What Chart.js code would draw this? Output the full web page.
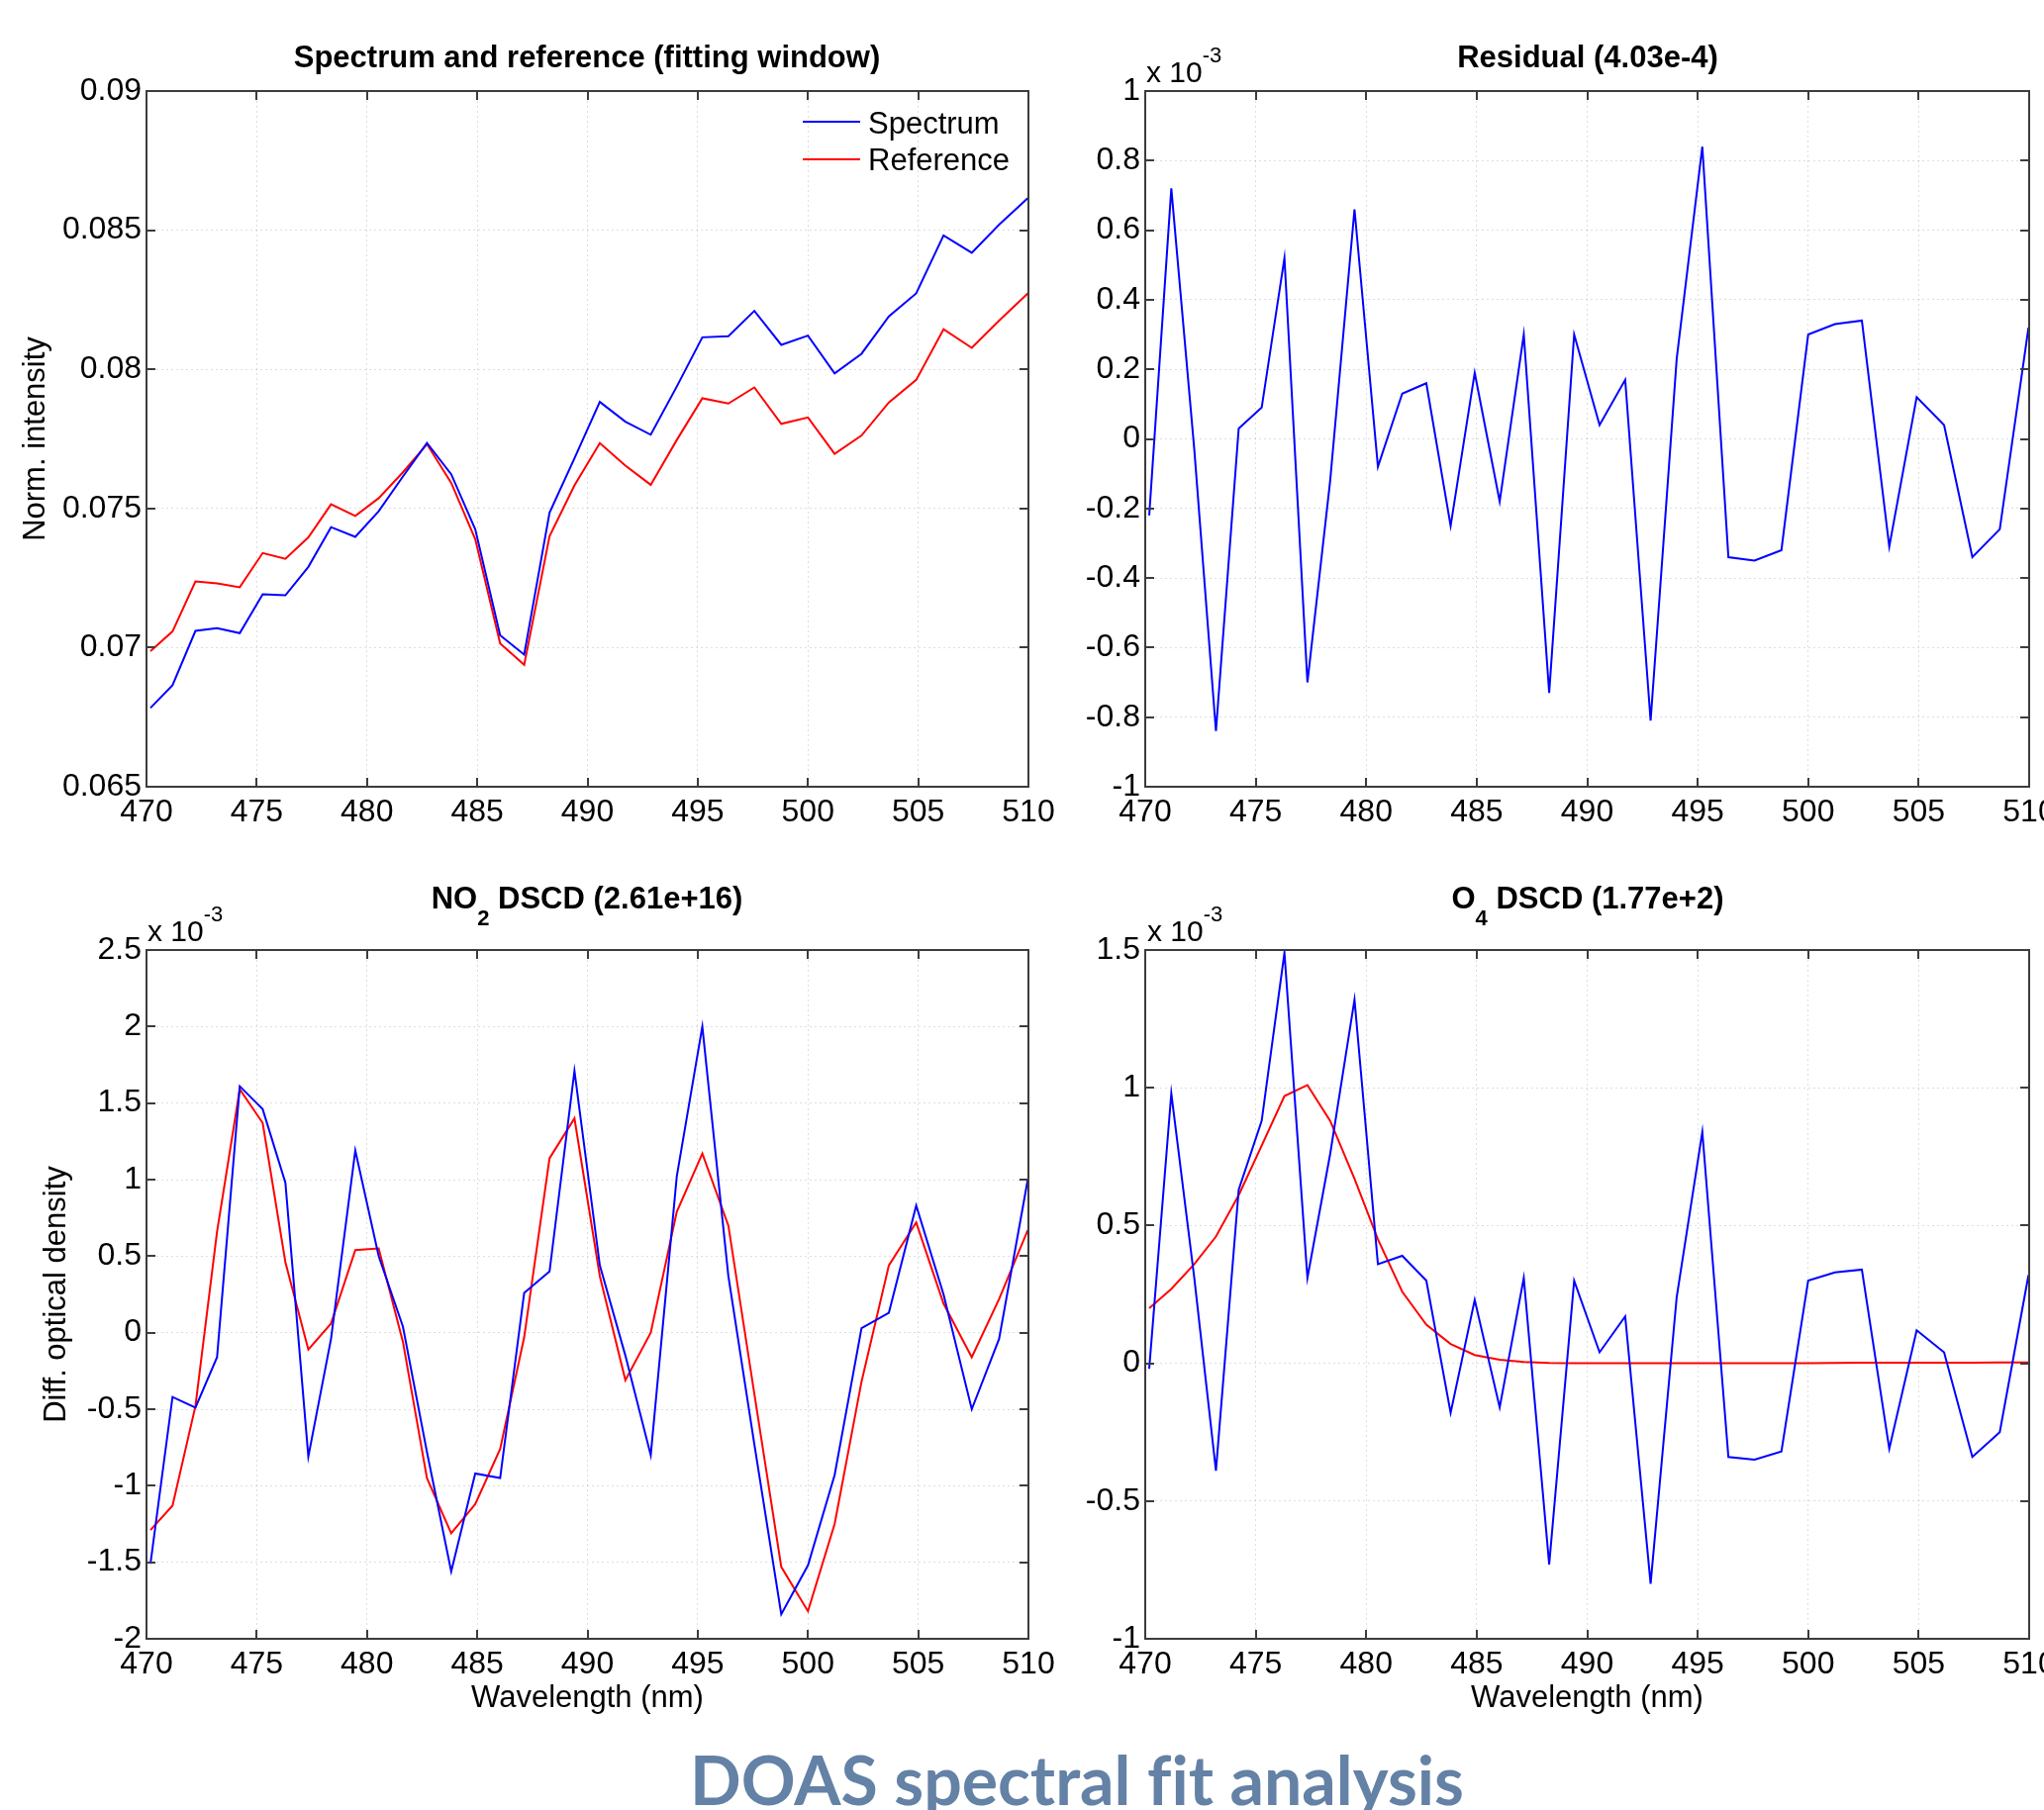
<!DOCTYPE html>
<html>
<head>
<meta charset="utf-8">
<title>DOAS spectral fit analysis</title>
<script src="https://cdn.jsdelivr.net/npm/chart.js@4.4.1/dist/chart.umd.min.js"></script>
<style>
  html, body { margin: 0; padding: 0; background: #fff; }
  #page { position: relative; width: 2065px; height: 1829px; overflow: hidden;
          font-family: "Liberation Sans", Arial, sans-serif; color: #000; }
  canvas.plot { position: absolute; left: 0; top: 0; }
  .txt { position: absolute; white-space: nowrap; line-height: 1; }
  .bold { font-weight: bold; }
  .legline { position: absolute; height: 2px; }
  #footer { position: absolute; white-space: nowrap; line-height: 1; font-family: Lato, "Open Sans", sans-serif;
            font-weight: bold; color: #6481a6; font-variant-ligatures: none; }
</style>
</head>
<body>
<div id="page">
  <canvas class="plot" id="cSpec" width="2065" height="1829"></canvas>
  <canvas class="plot" id="cRes" width="2065" height="1829"></canvas>
  <canvas class="plot" id="cNo2" width="2065" height="1829"></canvas>
  <canvas class="plot" id="cO4" width="2065" height="1829"></canvas>
  <div class="legline" style="left:811px; top:122px; width:58px; background:#0000ff"></div>
  <div class="legline" style="left:811px; top:160px; width:58px; background:#ff0000"></div>
  <div id="footer">DOAS spectral fit analysis</div>
</div>
<script>
// longitudes de onda (nm) de los pixeles del espectrometro
const wavelengths = [470.18, 471.18, 472.22, 473.20, 474.23, 475.27, 476.30, 477.34, 478.37, 479.47,
  480.53, 481.63, 482.72, 483.82, 484.91, 486.04, 487.13, 488.28, 489.41, 490.56,
  491.72, 492.87, 494.05, 495.21, 496.39, 497.57, 498.79, 500.00, 501.21, 502.43,
  503.67, 504.91, 506.15, 507.43, 508.67, 509.97];

// intensidad normalizada
const spectrum = [0.06783, 0.06865, 0.0706, 0.0707, 0.07052, 0.07192, 0.07188, 0.0729, 0.07433, 0.07398,
  0.0749, 0.07615, 0.07735, 0.07623, 0.07425, 0.07044, 0.06975, 0.07485, 0.0768, 0.07883,
  0.07812, 0.07765, 0.07938, 0.08115, 0.08119, 0.0821, 0.08088, 0.08121, 0.07985, 0.08056,
  0.0819, 0.08273, 0.08481, 0.08419, 0.0852, 0.08615];
const reference = [0.06987, 0.07058, 0.07238, 0.07231, 0.07217, 0.0734, 0.07319, 0.07396, 0.07515, 0.07473,
  0.07537, 0.0763, 0.07731, 0.07592, 0.0739, 0.07015, 0.06938, 0.074, 0.07583, 0.07735,
  0.07654, 0.07585, 0.07746, 0.07896, 0.07877, 0.07935, 0.07804, 0.07827, 0.07696, 0.07762,
  0.07881, 0.07962, 0.08144, 0.08077, 0.08175, 0.08273];

// residuo (x 10^-3)
const residual = [-0.22, 0.72, -0.03, -0.84, 0.03, 0.09, 0.52, -0.70, -0.12, 0.66,
  -0.08, 0.13, 0.16, -0.25, 0.19, -0.18, 0.30, -0.73, 0.30, 0.04,
  0.17, -0.81, 0.23, 0.84, -0.34, -0.35, -0.32, 0.30, 0.33, 0.34,
  -0.31, 0.12, 0.04, -0.34, -0.26, 0.32];

// NO2: densidad optica medida y ajustada (x 10^-3)
const no2Measured = [-1.51, -0.42, -0.49, -0.16, 1.61, 1.46, 0.98, -0.81, -0.04, 1.19,
  0.50, 0.04, -0.78, -1.56, -0.92, -0.95, 0.26, 0.40, 1.71, 0.44,
  -0.15, -0.80, 1.02, 2.00, 0.37, -0.73, -1.84, -1.52, -0.93, 0.03,
  0.13, 0.83, 0.25, -0.50, -0.04, 1.00];
const no2Fit = [-1.29, -1.13, -0.48, 0.66, 1.59, 1.37, 0.46, -0.11, 0.06, 0.54,
  0.55, -0.06, -0.95, -1.31, -1.12, -0.76, -0.03, 1.14, 1.40, 0.37,
  -0.31, 0.00, 0.79, 1.17, 0.70, -0.40, -1.53, -1.82, -1.25, -0.32,
  0.44, 0.72, 0.19, -0.16, 0.22, 0.67];

// O4: densidad optica medida y ajustada (x 10^-3)
const o4Measured = [-0.02, 0.98, 0.31, -0.39, 0.63, 0.88, 1.49, 0.31, 0.76, 1.32,
  0.36, 0.39, 0.30, -0.18, 0.23, -0.16, 0.31, -0.73, 0.30, 0.04,
  0.17, -0.80, 0.24, 0.84, -0.34, -0.35, -0.32, 0.30, 0.33, 0.34,
  -0.31, 0.12, 0.04, -0.34, -0.25, 0.32];
const o4Fit = [0.20, 0.27, 0.36, 0.46, 0.61, 0.79, 0.97, 1.01, 0.88, 0.67,
  0.45, 0.26, 0.14, 0.07, 0.03, 0.013, 0.005, 0.001, 0.0, 0.0,
  0.0, 0.0, 0.0, 0.0, 0.0, 0.0, 0.0, 0.0, 0.001, 0.002,
  0.002, 0.002, 0.002, 0.002, 0.003, 0.003];

const xTicks = { min: 470, max: 510, step: 5 };

const W = 2065, H = 1829;
const AXIS_W = 148, AXIS_H = 120;
const tickFont = { family: '"Liberation Sans", Arial, sans-serif', size: 32 };
const titleFont = { family: '"Liberation Sans", Arial, sans-serif', size: 31 };
const gridColor = 'rgba(0,0,0,0.13)';

// caja estilo matlab con marcas hacia adentro
const boxPlugin = {
  id: 'cajaMatlab',
  afterDatasetsDraw(chart) {
    const { ctx, chartArea: a, scales } = chart;
    const t = 9;
    ctx.save();
    ctx.strokeStyle = '#3c3c3c';
    ctx.lineWidth = 2;
    ctx.beginPath();
    scales.x.ticks.forEach(tk => {
      const p = Math.round(scales.x.getPixelForValue(tk.value));
      ctx.moveTo(p, a.bottom); ctx.lineTo(p, a.bottom - t);
      ctx.moveTo(p, a.top); ctx.lineTo(p, a.top + t);
    });
    scales.y.ticks.forEach(tk => {
      const p = Math.round(scales.y.getPixelForValue(tk.value));
      ctx.moveTo(a.left, p); ctx.lineTo(a.left + t, p);
      ctx.moveTo(a.right, p); ctx.lineTo(a.right - t, p);
    });
    ctx.stroke();
    ctx.strokeRect(a.left, a.top, a.right - a.left, a.bottom - a.top);
    ctx.restore();
  }
};

function serie(values, color) {
  return {
    data: wavelengths.map((w, i) => ({ x: w, y: values[i] })),
    borderColor: color,
    borderWidth: 2,
    pointRadius: 0,
    tension: 0,
    fill: false
  };
}

function makePlot(id, area, yAxis, datasets, yTitle, xTitle) {
  return new Chart(document.getElementById(id), {
    type: 'line',
    data: { datasets: datasets },
    options: {
      responsive: false,
      animation: false,
      events: [],
      layout: {
        padding: { left: area.left - AXIS_W, top: area.top, right: W - area.right, bottom: H - area.bottom - AXIS_H }
      },
      plugins: { legend: { display: false }, tooltip: { enabled: false } },
      scales: {
        x: {
          type: 'linear',
          min: xTicks.min, max: xTicks.max,
          ticks: { stepSize: xTicks.step, autoSkip: false, maxRotation: 0, padding: 7, color: '#000', font: tickFont },
          grid: { color: gridColor, lineWidth: 1, drawTicks: false },
          border: { display: false, dash: [2, 3] },
          title: xTitle ? { display: true, text: xTitle, color: '#000', font: titleFont, padding: { top: 0, bottom: 41 } } : { display: false },
          afterFit: s => { s.height = AXIS_H; s.paddingLeft = 0; s.paddingRight = 0; }
        },
        y: {
          min: yAxis.min, max: yAxis.max,
          ticks: {
            stepSize: yAxis.step, autoSkip: false, padding: 5, color: '#000', font: tickFont,
            callback: v => String(+v.toFixed(yAxis.dec))
          },
          grid: { color: gridColor, lineWidth: 1, drawTicks: false },
          border: { display: false, dash: [2, 3] },
          title: yTitle ? { display: true, text: yTitle.text, color: '#000', font: titleFont, padding: { top: yTitle.pad, bottom: 0 } } : { display: false },
          afterFit: s => { s.width = AXIS_W; s.paddingTop = 0; s.paddingBottom = 0; }
        }
      }
    },
    plugins: [boxPlugin]
  });
}

const areaTL = { left: 148, right: 1039, top: 92, bottom: 795 };
const areaTR = { left: 1157, right: 2050, top: 92, bottom: 795 };
const areaBL = { left: 148, right: 1039, top: 960, bottom: 1656 };
const areaBR = { left: 1157, right: 2050, top: 960, bottom: 1656 };

makePlot('cSpec', areaTL, { min: 0.065, max: 0.09, step: 0.005, dec: 3 },
  [serie(spectrum, '#0000ff'), serie(reference, '#ff0000')],
  { text: 'Norm. intensity', pad: 18 }, null);

makePlot('cRes', areaTR, { min: -1, max: 1, step: 0.2, dec: 1 },
  [serie(residual, '#0000ff')], null, null);

makePlot('cNo2', areaBL, { min: -2, max: 2.5, step: 0.5, dec: 1 },
  [serie(no2Measured, '#0000ff'), serie(no2Fit, '#ff0000')],
  { text: 'Diff. optical density', pad: 39 }, 'Wavelength (nm)');

makePlot('cO4', areaBR, { min: -1, max: 1.5, step: 0.5, dec: 1 },
  [serie(o4Measured, '#0000ff'), serie(o4Fit, '#ff0000')], null, 'Wavelength (nm)');

// textos en html: titulos, multiplicadores y leyenda
const page = document.getElementById('page');
function putText(html, x, baseline, size, center, cls) {
  const el = document.createElement('div');
  el.className = 'txt' + (cls ? ' ' + cls : '');
  el.innerHTML = html;
  el.style.fontSize = size + 'px';
  el.style.top = (baseline - 0.847 * size) + 'px';
  el.style.left = x + 'px';
  if (center) el.style.transform = 'translateX(-50%)';
  page.appendChild(el);
}
const sub = n => `<span style="font-size:22px; position:relative; top:17px">${n}</span>`;
const sup = n => `<span style="font-size:22px; position:relative; top:-20px">${n}</span>`;

putText('Spectrum and reference (fitting window)', 593, 68, 31, true, 'bold');
putText('Residual (4.03e-4)', 1604, 68, 31, true, 'bold');
putText('NO' + sub(2) + ' DSCD (2.61e+16)', 593, 918, 31, true, 'bold');
putText('O' + sub(4) + ' DSCD (1.77e+2)', 1604, 918, 31, true, 'bold');

putText('x 10' + sup('-3'), 1158, 83, 30, false);
putText('x 10' + sup('-3'), 149, 951, 30, false);
putText('x 10' + sup('-3'), 1159, 951, 30, false);

putText('Spectrum', 877, 135, 31, false);
putText('Reference', 877, 172, 31, false);

const footer = document.getElementById('footer');
footer.style.fontSize = '68px';
footer.style.left = '1088px';
footer.style.top = (1824 - 0.887 * 68) + 'px';
footer.style.transform = 'translateX(-50%)';
</script>
</body>
</html>
